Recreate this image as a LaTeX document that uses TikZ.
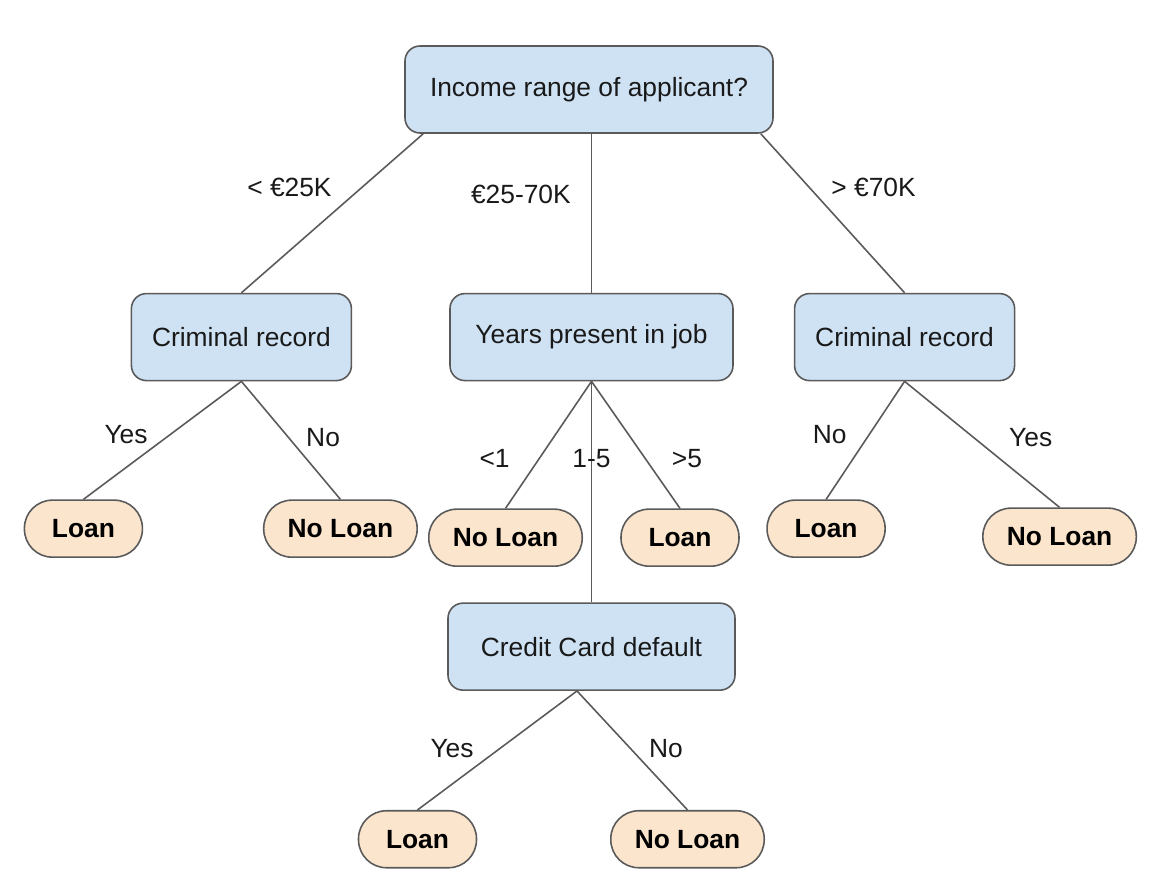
\documentclass[tikz,border=0pt]{standalone}
\usepackage{fontspec}
\setmainfont{Liberation Sans}
\usepackage{xcolor}
\usepackage{tikz}
\usetikzlibrary{positioning, calc}

\definecolor{qblue}{HTML}{CFE2F3}
\definecolor{qorange}{HTML}{FCE5CD}
\definecolor{qline}{HTML}{5A5A5A}

\begin{document}
\begin{tikzpicture}[
    decision/.style={rectangle, draw=qline, fill=qblue, line width=0.9pt, rounded corners=0.3cm, minimum height=1.74cm, align=center, font=\fontsize{15}{18}\selectfont, text=black!90},
    leaf/.style={rectangle, draw=qline, fill=qorange, line width=0.9pt, rounded corners=0.56cm, minimum height=1.14cm, minimum width=2.36cm, inner xsep=0.48cm, font=\fontsize{15}{18}\selectfont\bfseries},
    branch/.style={draw=qline, line width=0.9pt},
    lbl/.style={inner sep=0pt, font=\fontsize{15}{18}\selectfont, text=black!90}
]

\path[use as bounding box, fill=white] (0,0) rectangle (23,-17.56);

% Nodes
\node[decision, minimum width=7.36cm] (root) at (11.78,-1.79) {Income range of applicant?};
\node[decision, minimum width=5.66cm, below=3.18cm of root, xshift=0.05cm] (years) {Years present in job};
\node[decision, minimum width=4.4cm, left=1.94cm of years] (critl) {Criminal record};
\node[decision, minimum width=4.4cm, right=1.2cm of years] (critr) {Criminal record};
\node[decision, minimum width=5.74cm, below=4.42cm of years] (credit) {Credit Card default};

\node[leaf, below=2.36cm of critl, xshift=-3.16cm] (loan1) {Loan};
\node[leaf, below=2.36cm of critl, xshift=1.98cm] (noloan1) {No Loan};
\node[leaf, below=2.54cm of years, xshift=-1.72cm] (noloan2) {No Loan};
\node[leaf, below=2.54cm of years, xshift=1.77cm] (loan2) {Loan};
\node[leaf, below=2.36cm of critr, xshift=-1.57cm] (loan3) {Loan};
\node[leaf, below=2.52cm of critr, xshift=3.1cm] (noloan3) {No Loan};
\node[leaf, below=2.38cm of credit, xshift=-3.48cm] (loan4) {Loan};
\node[leaf, below=2.38cm of credit, xshift=1.92cm] (noloan4) {No Loan};

% Connections
\draw[branch] ($(root.south west)+(0.38,0)$) -- node[lbl, pos=0.34, left=0.58cm] {< €25K} (critl.north);
\draw[branch] (root.south -| years.north) -- node[lbl, pos=0.38, left=0.4cm] {€25-70K} (years.north);
\draw[branch] ($(root.south east)+(-0.26,0)$) -- node[lbl, pos=0.34, right=0.42cm] {> €70K} (critr.north);

\draw[branch] (critl.south) -- node[lbl, pos=0.45, left=0.44cm] {Yes} (loan1.north);
\draw[branch] (critl.south) -- node[lbl, pos=0.475, right=0.34cm] {No} (noloan1.north);

\draw[branch] (years.south) -- node[lbl, pos=0.606, left=0.58cm] {<1} (noloan2.north);
\draw[branch] (years) -- node[lbl, pos=0.35] {1-5} (credit);
\draw[branch] (years.south) -- node[lbl, pos=0.606, right=0.52cm] {>5} (loan2.north);

\draw[branch] (critr.south) -- node[lbl, pos=0.45, left=0.44cm] {No} (loan3.north);
\draw[branch] (critr.south) -- node[lbl, pos=0.444, right=0.7cm] {Yes} (noloan3.north);

\draw[branch] ($(credit.south)+(-0.29,0)$) -- node[lbl, pos=0.487, left=0.5cm] {Yes} (loan4.north);
\draw[branch] ($(credit.south)+(-0.29,0)$) -- node[lbl, pos=0.487, right=0.35cm] {No} (noloan4.north);

\end{tikzpicture}
\end{document}
